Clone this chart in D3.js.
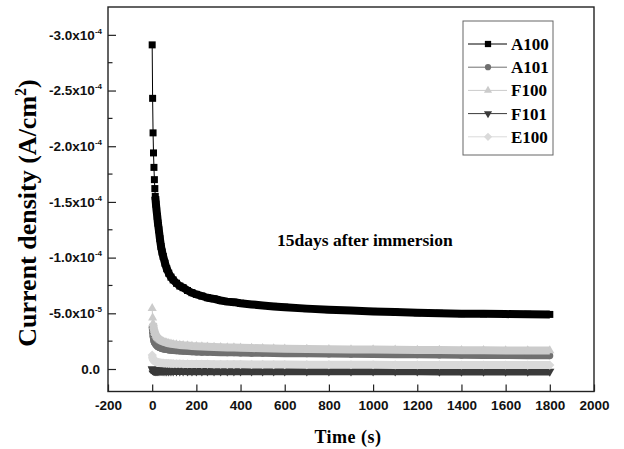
<!DOCTYPE html>
<html>
<head>
<meta charset="utf-8">
<script src="https://cdn.jsdelivr.net/npm/d3@7"></script>
<style>
  body { margin: 0; background: #fff; }
  svg { display: block; }
</style>
</head>
<body>
<div id="chart"></div>
<script>
// time in s, current density in units of 1e-5 A/cm^2 (negative = up)
const times = [0, 2, 4, 6, 8, 10, 12, 14, 17, 20, 23, 26, 30, 35, 40, 45, 50, 58, 66, 75, 85, 95,
  110, 125, 140, 160, 180, 200, 225, 250, 280, 310, 340, 370, 400, 450, 500, 550, 600,
  700, 800, 900, 1000, 1100, 1200, 1300, 1400, 1500, 1600, 1700, 1800];

const a100 = [-29.1, -24.3, -21.2, -19.4, -18.1, -17.0, -16.2, -15.5, -14.8, -14.2, -13.7, -13.1, -12.5,
  -11.7, -11.0, -10.5, -10.1, -9.5, -9.0, -8.6, -8.25, -8.0, -7.7, -7.45, -7.3, -7.05, -6.85, -6.7,
  -6.55, -6.4, -6.3, -6.15, -6.05, -6.0, -5.9, -5.8, -5.7, -5.62, -5.55, -5.42, -5.33, -5.25, -5.17,
  -5.11, -5.05, -5.0, -4.97, -4.95, -4.93, -4.91, -4.9];

const a101 = [-3.8, -3.3, -2.95, -2.7, -2.5, -2.4, -2.32, -2.26, -2.18, -2.1, -2.05, -2.0, -1.95,
  -1.9, -1.86, -1.83, -1.8, -1.77, -1.74, -1.71, -1.68, -1.66, -1.63, -1.61, -1.59, -1.57, -1.55, -1.53,
  -1.51, -1.5, -1.48, -1.47, -1.46, -1.45, -1.44, -1.42, -1.41, -1.4, -1.38, -1.36, -1.34, -1.32, -1.3,
  -1.29, -1.27, -1.26, -1.24, -1.22, -1.21, -1.2, -1.19];

const f100 = [-5.45, -4.6, -4.1, -3.8, -3.6, -3.45, -3.3, -3.2, -3.05, -2.95, -2.85, -2.78, -2.7,
  -2.62, -2.55, -2.5, -2.45, -2.4, -2.35, -2.3, -2.26, -2.23, -2.19, -2.16, -2.13, -2.1, -2.07, -2.05,
  -2.02, -2.0, -1.98, -1.96, -1.94, -1.92, -1.9, -1.88, -1.86, -1.84, -1.82, -1.8, -1.78, -1.76, -1.74,
  -1.72, -1.71, -1.7, -1.69, -1.68, -1.67, -1.66, -1.65];

const f101 = [0.0, 0.08, 0.12, 0.14, 0.15, 0.16, 0.16, 0.17, 0.17, 0.17, 0.18, 0.18, 0.18,
  0.18, 0.18, 0.18, 0.18, 0.19, 0.19, 0.19, 0.19, 0.19, 0.19, 0.19, 0.19, 0.2, 0.2, 0.2,
  0.2, 0.2, 0.2, 0.2, 0.2, 0.2, 0.2, 0.2, 0.2, 0.2, 0.21, 0.21, 0.21, 0.21, 0.21,
  0.21, 0.21, 0.22, 0.22, 0.22, 0.22, 0.22, 0.22];

const e100 = [-1.25, -1.0, -0.88, -0.8, -0.75, -0.72, -0.69, -0.67, -0.65, -0.63, -0.61, -0.6, -0.58,
  -0.56, -0.55, -0.54, -0.53, -0.52, -0.51, -0.5, -0.49, -0.48, -0.47, -0.47, -0.46, -0.46, -0.45, -0.45,
  -0.44, -0.44, -0.43, -0.43, -0.42, -0.42, -0.42, -0.41, -0.41, -0.4, -0.4, -0.39, -0.39, -0.38, -0.38,
  -0.37, -0.37, -0.37, -0.36, -0.36, -0.36, -0.35, -0.35];

const seriesNames = ["A100", "A101", "F100", "F101", "E100"];
const seriesValues = [a100, a101, f100, f101, e100];

const xTicks = [-200, 0, 200, 400, 600, 800, 1000, 1200, 1400, 1600, 1800, 2000];
const xTickLabels = ["-200", "0", "200", "400", "600", "800", "1000", "1200", "1400", "1600", "1800", "2000"];
const yMajor = [0, -5, -10, -15, -20, -25, -30];
const yMinor = [-2.5, -7.5, -12.5, -17.5, -22.5, -27.5];
const yTickMant = ["0.0", "-5.0x10", "-1.0x10", "-1.5x10", "-2.0x10", "-2.5x10", "-3.0x10"];
const yTickExp = ["", "-5", "-4", "-4", "-4", "-4", "-4"];

const styles = {
  A100: { color: "#000", symbol: d3.symbolSquare, size: 49, rot: 0, band: 8, bandFrom: 7 },
  A101: { color: "#707070", symbol: d3.symbolCircle, size: 38, rot: 0, band: 7, bandFrom: 0 },
  F100: { color: "#cbcbcb", symbol: d3.symbolTriangle, size: 36, rot: 0, band: 8, bandFrom: 2 },
  F101: { color: "#3a3a3a", symbol: d3.symbolTriangle, size: 36, rot: 180, band: 8, bandFrom: 0 },
  E100: { color: "#dadada", symbol: d3.symbolSquare, size: 42, rot: 45, band: 8, bandFrom: 0 },
};

const sansFont = "'Liberation Sans', Arial, sans-serif";
const serifFont = "'Liberation Serif', 'Times New Roman', serif";

const width = 624, height = 449;
const x = d3.scaleLinear().domain([-200, 2000]).range([108, 594]);
const y = d3.scaleLinear().domain([2.02, -32.5]).range([391.5, 7]);

const svg = d3.select("#chart").append("svg")
  .attr("width", width)
  .attr("height", height);

// series
const line = d3.line().x(d => x(d[0])).y(d => y(d[1]));

seriesNames.forEach(function (name, k) {
  const st = styles[name];
  const pts = times.map((t, i) => [t, seriesValues[k][i]]);
  const g = svg.append("g").attr("class", "series");

  g.append("path")
    .attr("d", line(pts))
    .attr("fill", "none")
    .attr("stroke", st.color)
    .attr("stroke-width", 1);

  g.append("path")
    .attr("d", line(pts.slice(st.bandFrom)))
    .attr("fill", "none")
    .attr("stroke", st.color)
    .attr("stroke-width", st.band)
    .attr("stroke-linejoin", "round");

  g.selectAll("path.marker")
    .data(pts)
    .enter()
    .append("path")
    .attr("class", "marker")
    .attr("d", d3.symbol(st.symbol, st.size))
    .attr("transform", d => "translate(" + [x(d[0]), y(d[1])] + ") rotate(" + st.rot + ")")
    .attr("fill", st.color);
});

// frame
svg.append("rect")
  .attr("x", 108).attr("y", 7)
  .attr("width", 594 - 108).attr("height", 391.5 - 7)
  .attr("fill", "none")
  .attr("stroke", "#222")
  .attr("stroke-width", 1.4);

// x axis
const xAxis = svg.append("g")
  .attr("transform", "translate(0,391.5)")
  .call(d3.axisBottom(x).tickValues(xTicks).tickSizeInner(-7).tickSizeOuter(0).tickPadding(9)
    .tickFormat((d, i) => xTickLabels[i]));
xAxis.select(".domain").remove();
xAxis.selectAll("line").attr("stroke", "#222").attr("stroke-width", 1.2);
xAxis.selectAll("text")
  .style("font-family", sansFont)
  .style("font-weight", "bold")
  .style("font-size", "13.5px")
  .attr("fill", "#111");

// y axis
const yAxis = svg.append("g")
  .attr("transform", "translate(108,0)")
  .call(d3.axisLeft(y).tickValues(yMajor).tickSizeInner(-8).tickSizeOuter(0).tickPadding(8)
    .tickFormat(""));
yAxis.select(".domain").remove();
yAxis.selectAll("line").attr("stroke", "#222").attr("stroke-width", 1.2);
yAxis.selectAll("text").each(function (d, i) {
  const t = d3.select(this)
    .style("font-family", sansFont)
    .style("font-weight", "bold")
    .style("font-size", "13.5px")
    .attr("fill", "#111");
  if (yTickExp[i]) {
    t.append("tspan").text(yTickMant[i]);
    t.append("tspan").attr("dy", -6).style("font-size", "8px").text(yTickExp[i]);
    t.attr("x", -6);
  } else {
    t.text(yTickMant[i]).attr("x", -8);
  }
});

svg.append("g")
  .selectAll("line")
  .data(yMinor)
  .enter()
  .append("line")
  .attr("x1", 108).attr("x2", 112.5)
  .attr("y1", d => y(d)).attr("y2", d => y(d))
  .attr("stroke", "#222")
  .attr("stroke-width", 1.2);

// axis titles
svg.append("text")
  .style("font-family", serifFont).style("font-weight", "bold")
  .attr("x", 348).attr("y", 443)
  .attr("text-anchor", "middle")
  .attr("font-size", 18)
  .attr("letter-spacing", 0.5)
  .text("Time (s)");

const yTitle = svg.append("text")
  .style("font-family", serifFont).style("font-weight", "bold")
  .attr("transform", "translate(36,213) rotate(-90)")
  .attr("text-anchor", "middle")
  .attr("font-size", 26);
yTitle.append("tspan").text("Current density (A/cm");
yTitle.append("tspan").attr("dy", -10).attr("font-size", 16).text("2");
yTitle.append("tspan").attr("dy", 10).text(")");

svg.append("text")
  .style("font-family", serifFont).style("font-weight", "bold")
  .attr("x", 277).attr("y", 246)
  .attr("font-size", 17.5)
  .text("15days after immersion");

// legend
const legend = svg.append("g").attr("transform", "translate(463,21)");
legend.append("rect")
  .attr("width", 90).attr("height", 134)
  .attr("fill", "#fff")
  .attr("stroke", "#666")
  .attr("stroke-width", 1);

seriesNames.forEach(function (name, i) {
  const st = styles[name];
  const row = legend.append("g").attr("transform", "translate(0," + (23 + i * 23.2) + ")");
  row.append("line")
    .attr("x1", 5).attr("x2", 44)
    .attr("stroke", st.color)
    .attr("stroke-width", 1);
  row.append("path")
    .attr("d", d3.symbol(st.symbol, st.size * 0.8))
    .attr("transform", "translate(25,0) rotate(" + st.rot + ")")
    .attr("fill", st.color);
  row.append("text")
    .style("font-family", serifFont).style("font-weight", "bold")
    .attr("x", 48).attr("y", 6)
    .attr("font-size", 17)
    .text(name);
});
</script>
</body>
</html>
